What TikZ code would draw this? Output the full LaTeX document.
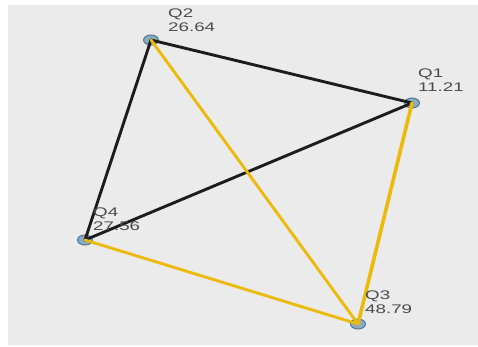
\documentclass[tikz,border=0pt]{standalone}
\usepackage{fontspec}
\setmainfont{Liberation Sans}
\usetikzlibrary{shapes.geometric}
\definecolor{bggray}{RGB}{235,235,235}
\definecolor{nodefill}{RGB}{135,172,196}
\definecolor{nodeline}{RGB}{85,120,140}
\definecolor{edgeblack}{RGB}{28,28,28}
\definecolor{edgegold}{RGB}{236,186,10}
\definecolor{labelgray}{RGB}{75,75,75}
\tikzset{
  vertex/.style={ellipse, draw=nodeline, fill=nodefill, line width=1pt, minimum width=15pt, minimum height=10pt, inner sep=0pt},
  blackedge/.style={draw=edgeblack, line width=2.9pt, line cap=round},
  goldedge/.style={draw=edgegold, line width=2.9pt, line cap=round},
  vlabel/.style={anchor=north west, inner sep=0pt, align=left, text=labelgray, font=\fontsize{12.5}{14}\selectfont}
}
\newcommand{\wide}[1]{\scalebox{1.5}[1]{#1}}
\begin{document}
\begin{tikzpicture}[x=1pt,y=-1pt]
\useasboundingbox (0,0) rectangle (478,347);
\fill[white] (0,0) rectangle (478,347);
\fill[bggray] (8,5) rectangle (478,345);
% vertices
\node[vertex] (q1) at (412,103) {};
\node[vertex] (q2) at (151,40) {};
\node[vertex] (q3) at (358,324) {};
\node[vertex] (q4) at (85,240) {};
% edges
\draw[blackedge] (q2.center) -- (q1.center);
\draw[blackedge] (q2.center) -- (q4.center);
\draw[blackedge] (q4.center) -- (q1.center);
\draw[goldedge] (q2.center) -- (q3.center);
\draw[goldedge, line width=3.6pt] (q1.center) -- (q3.center);
\draw[goldedge] (q4.center) -- (q3.center);
% labels
\node[vlabel] (l2) at (168,9) {\wide{Q2}\\\wide{26.64}};
\node[vlabel] (l1) at (418,69) {\wide{Q1}\\\wide{11.21}};
\node[vlabel] (l4) at (93,208) {\wide{Q4}\\\wide{27.56}};
\node[vlabel] (l3) at (365,291) {\wide{Q3}\\\wide{48.79}};
\end{tikzpicture}
\end{document}
